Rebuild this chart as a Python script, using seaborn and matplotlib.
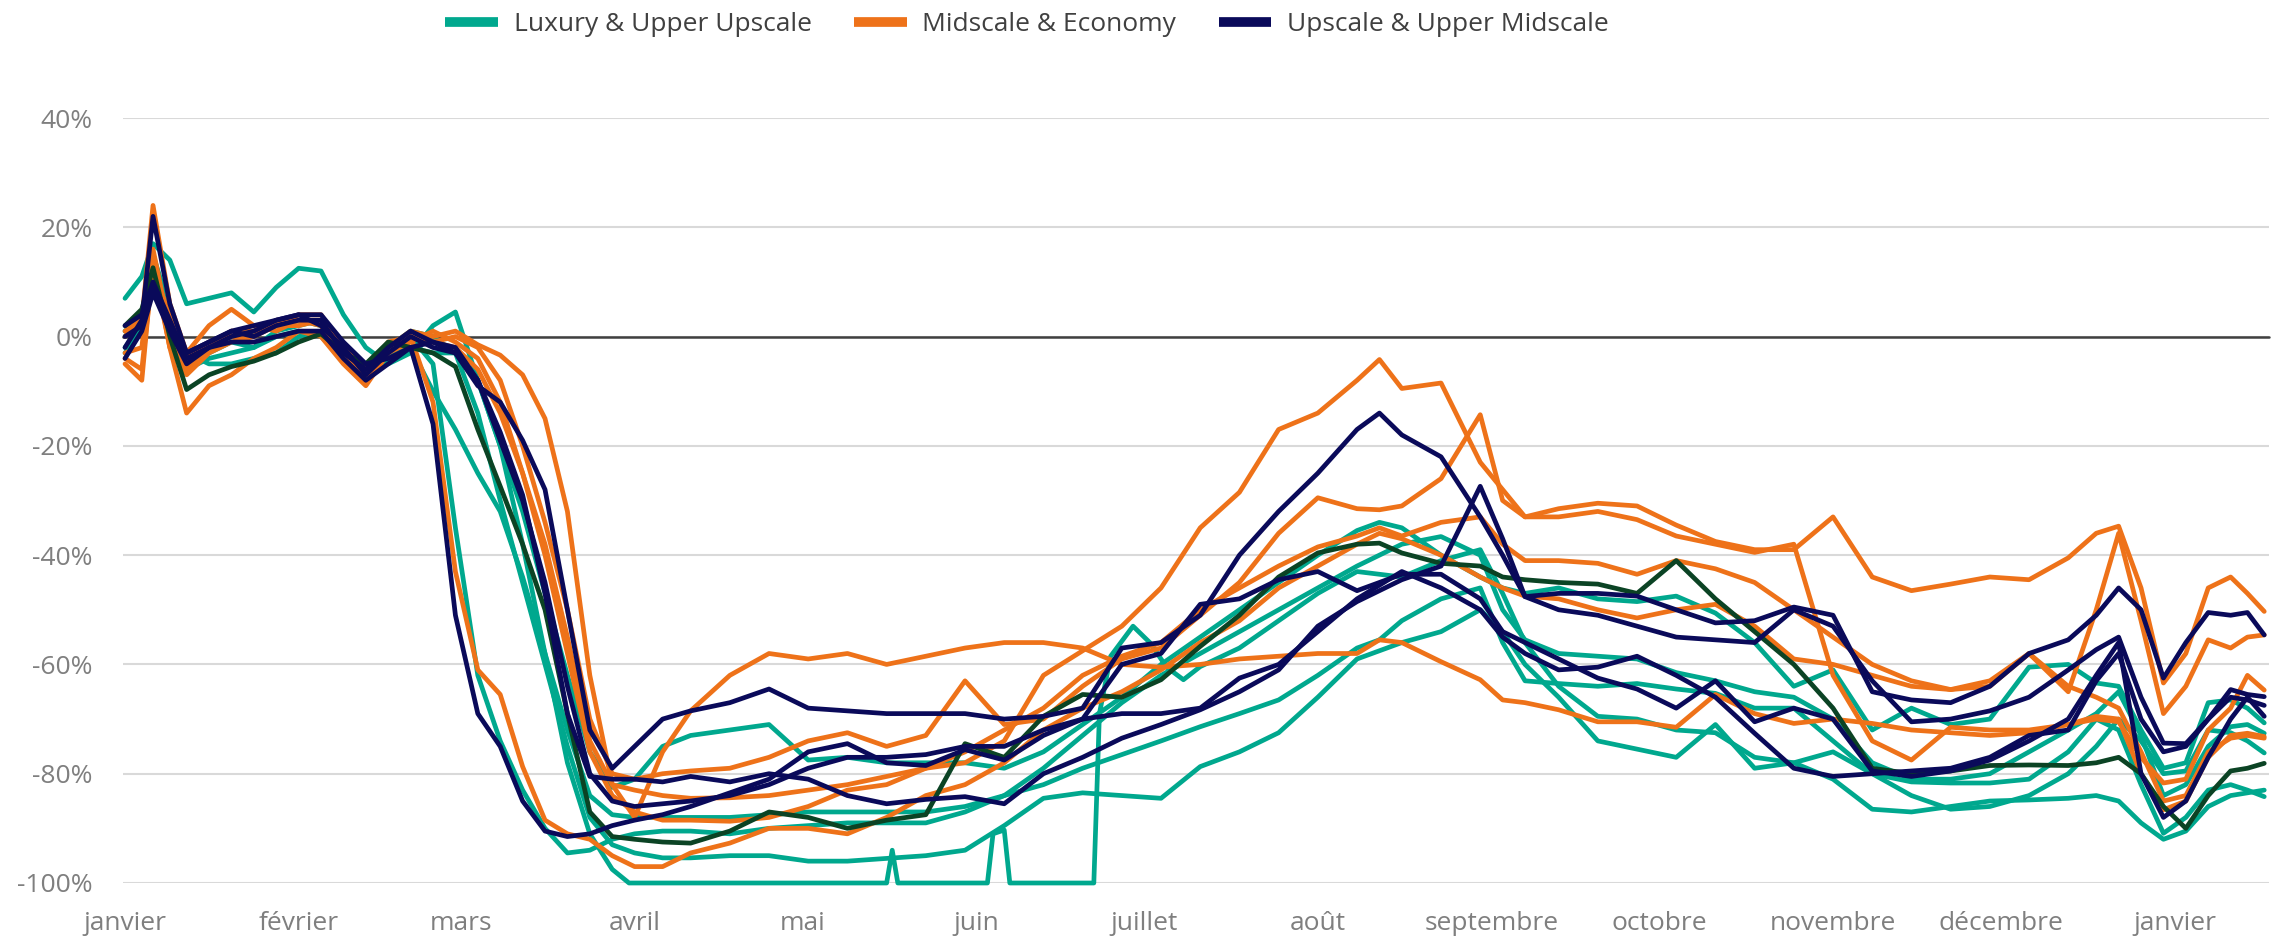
import matplotlib
matplotlib.use("Agg")
import pandas as pd
import matplotlib.pyplot as plt
import seaborn as sns
from matplotlib.lines import Line2D

sns.set_theme(style="white")
plt.rcParams["font.family"] = ["Open Sans", "DejaVu Sans"]

# jours depuis le 1er janvier 2020
DAYS = [0, 3, 5, 8, 11, 15, 19, 23, 27, 31, 35, 39, 43, 47, 51, 55,
        59, 63, 67, 71, 75, 79, 83, 87, 91, 96, 101,
        108, 115, 122, 129, 136, 143, 150, 157, 164, 171, 178,
        185, 192, 199, 206, 213, 220, 224, 228, 235, 242, 246, 250,
        256, 263, 270, 277, 284, 291, 298, 305, 312, 319, 326, 333, 340, 347,
        352, 356, 360, 364, 368, 372, 376, 379, 382]

MONTH_DAYS = [0, 31, 60, 91, 121, 152, 182, 213, 244, 274, 305, 335, 366]
MONTH_LABELS = ["janvier", "février", "mars", "avril", "mai", "juin", "juillet",
                "août", "septembre", "octobre", "novembre", "décembre", "janvier"]

# Luxury & Upper Upscale
TA = [7, 11, 17, 14, 6, 7, 8, 4.5, 9, 12.5, 12, 4, -2, -5, -3, 2,
      4.5, -8, -20, -32, -47, -62, -76, -82.5, -81, -75, -73,
      -72, -71, -77.5, -77, -78, -78, -78, -79, -76, -71, -66,
      -60, -55, -50, -45, -40, -35.5, -34, -35, -40, -44, -46, -47,
      -46, -48, -48.5, -47.5, -50.6, -56, -64, -61, -72, -68, -71, -70, -60.5, -60,
      -63.4, -64, -72, -79, -78, -67, -66.5, -68, -70.7]
TB = [-2, 2, 14, 3, -4, -2, 0, 1, 2, 3, 2, -3, -7, -3, -2, -10,
      -17, -25, -32, -44, -58, -72, -84, -87.5, -88, -88, -88,
      -88, -87.5, -87, -87, -87, -87, -86, -84, -79, -73, -67,
      -62, -58, -54, -50, -46, -42, -40, -38, -36.6, -40, -50, -55.5,
      -58, -58.5, -59, -61.5, -63, -65, -66, -70, -78, -81, -81, -80, -76, -72,
      -69, -65, -73, -84, -82, -75, -71.4, -71, -72.6]
TC = [-3, 1, 10, 2, -5, -3, -1, -2, 1, 2, 3, -2, -6, -4, 0, -5,
      -35, -62, -74, -83, -90, -94.5, -94, -92, -91, -90.5, -90.5,
      -91, -90, -89.5, -89, -89, -89, -87, -84, -82, -79, -76.5,
      -74, -71.4, -69, -66.5, -62, -57, -55.5, -52, -48, -46, -56, -63,
      -63.5, -64, -63.5, -64.5, -65.3, -68, -68, -74, -80, -81.5, -81.7, -81.7, -81, -76,
      -70, -72, -82, -90.9, -88, -83, -82, -83, -84.2]
TD = [0, 3, 12, 0, -6, -4, -3, -2, 0, 1, 0, -4, -8, -2, 1, 0,
      -3, -14, -30, -45, -60, -75, -88, -93, -94.5, -95.4, -95.4,
      -95, -95, -96, -96, -95.5, -95, -94, -89.5, -84.5, -83.5, -84,
      -84.5, -78.7, -76, -72.5, -66, -59, -57.5, -56, -54, -50, -54, -60,
      -66, -74, -75.5, -77, -71, -79, -78, -81, -86.5, -87, -86, -85, -84.8, -84.5,
      -84, -85, -89, -92, -90.5, -86, -84, -83.5, -83]
TE_DAYS = [0, 3, 5, 8, 11, 15, 19, 23, 27, 31, 35, 39, 43, 47, 51, 55, 59, 63, 67, 71,
           75, 79, 83, 87, 90, 136, 137, 138, 154, 155, 157, 158, 173, 174, 176, 180,
           183, 186, 189, 192, 199, 206, 213, 220, 224, 228, 235, 242, 246, 250,
           256, 263, 270, 277, 284, 291, 298, 305, 312, 319, 326, 333, 340, 347,
           352, 356, 360, 364, 368, 372, 376, 379, 382]
TE = [1, 4, 15, 5, -3, -5, -5, -4, -3, 0, 1, -3, -7, -4, -2, -3, -3, -8, -20, -38,
      -58, -78, -91, -97.5, -100, -100, -94, -100, -100, -91, -90.3, -100, -100, -69, -58.5, -53,
      -56, -60.5, -62.8, -60.4, -57, -52, -47, -43, -43.5, -44, -41, -39, -47, -56,
      -64, -69.5, -70, -72, -72.5, -77, -78, -76, -80, -84, -86.5, -86, -84, -80,
      -75, -70, -74, -80, -79.5, -72, -72.5, -74, -76.2]

# Midscale & Economy
OA = [1, 3, 24, 6, -3, 2, 5, 2, 1, 3, 3, -3, -7, -3, 0, -1,
      -2, -6, -14, -25, -38, -55, -74, -82, -83, -84, -84.5,
      -84.4, -84, -83, -82, -80.5, -79, -78, -74, -62, -57.5, -53,
      -46, -35, -28.5, -17, -14, -8, -4.2, -9.5, -8.5, -23, -28, -33,
      -31.5, -30.5, -31, -34.5, -37.5, -39, -39, -33, -44, -46.5, -45.3, -44, -44.5, -40.5,
      -36, -34.7, -46, -63.4, -58, -46, -44, -47, -50.3]
OS = [-3, -2, 16, 1, -6, -2, 1, 1, 2, 2, 3, -3, -7, -2, 0, -1,
      0, -2, -8, -20, -34, -50, -70, -80, -81, -80, -79.5,
      -79, -77, -74, -72.5, -75, -73, -63, -71, -70, -64, -59,
      -57, -51, -45, -36, -29.5, -31.5, -31.7, -31, -26, -14.3, -30, -33,
      -33, -32, -33.5, -36.5, -38, -39.5, -38, -62, -74, -77.5, -71.5, -72, -72, -71,
      -70, -70.5, -77, -81.7, -81, -72, -68, -62, -64.7]
OB = [-5, -8, 14, -2, -14, -9, -7, -4, -2, 1, 0, -5, -9, -3, -1, 1,
      -1, -4, -12, -25, -40, -58, -76, -84, -87, -88.5, -88.5,
      -88.7, -88, -86, -83, -82, -79, -76, -72, -68, -62, -58.5,
      -56, -50, -46, -42, -38.5, -36.5, -35, -36.5, -34, -33, -38, -41,
      -41, -41.5, -43.5, -41, -42.5, -45, -50, -55, -60, -63, -64.6, -63, -58, -64,
      -66, -68, -76, -85, -84, -76, -73.5, -73, -73.5]
OC = [0, 4, 12, 4, -4, -1, 0, 0, 2, 4, 4, -2, -6, -1, 0, -12,
      -43, -61, -65.5, -78.7, -88.5, -91, -92, -95, -97, -97, -94.5,
      -92.7, -90, -90, -91, -88, -84, -82, -78, -72, -68, -65,
      -61, -56, -52, -46, -42, -38, -36, -37, -40, -44, -46, -47.5,
      -48, -50, -51.5, -50, -49, -53, -59, -60, -62, -64, -64.6, -64, -58, -65,
      -50, -36, -52, -69, -64, -55.5, -57, -55, -54.6]
OD = [-4, -6, 13, -2, -7, -3, -1, 0, 3, 3, 2, -4, -8, -2, 1, 0,
      1, -1.5, -3.4, -7, -15, -32, -62, -82, -88, -76, -68.5,
      -62, -58, -59, -58, -60, -58.5, -57, -56, -56, -57, -60,
      -60.5, -60, -59, -58.5, -58, -58, -55.5, -56, -59.5, -62.8, -66.5, -67,
      -68.3, -70.5, -70.5, -71.5, -65.5, -69, -70.8, -70, -70.8, -72, -72.5, -73, -72.5, -71,
      -69.5, -70, -80, -86.6, -85, -77, -73, -72.6, -73.2]

# Upscale & Upper Midscale
N1 = [-2, 3, 22, 6, -3, -1, 1, 2, 3, 4, 4, -1, -5, -4, -2, -1,
      -3, -9, -12, -19, -28, -50, -72, -79, -75, -70, -68.5,
      -67, -64.5, -68, -68.5, -69, -69, -69, -70, -69.5, -68, -57,
      -56, -51, -40, -32, -25, -17, -14, -18, -22, -33, -40, -47.6,
      -47, -47, -47.5, -50, -52.4, -52, -49.5, -51, -65, -66.5, -67, -64, -58, -55.5,
      -51, -46, -50, -62.5, -56, -50.5, -51, -50.5, -54.6]
N2 = [2, 4, 10, 3, -4, -2, 0, 1, 3, 4, 2, -2, -7, -3, 0, -2,
      -3, -8, -17.5, -29, -47, -69, -80.5, -81, -81, -81.5, -80.5,
      -81.5, -80, -81, -84, -85.5, -84.7, -84.2, -85.5, -80, -77, -73.5,
      -71, -68.3, -65, -61, -53, -48.5, -46.5, -44.5, -42, -27.4, -37, -47.6,
      -50, -51, -53, -55, -55.5, -56, -50, -53, -63, -70.5, -70, -68.5, -66, -61,
      -57.3, -55, -66, -74.4, -74.5, -70, -64.6, -65.5, -65.9]
N3 = [-4, 1, 8, 1, -5, -2, -1, -1, 0, 1, 1, -4, -8, -5, -2, -16,
      -51, -69, -75, -85, -90.5, -91.5, -91, -89.5, -88.5, -87.5, -86,
      -83.5, -81, -76, -74.5, -78, -78.5, -75.6, -77.5, -73, -70, -69,
      -69, -68, -62.5, -60, -54, -48, -45.5, -43, -46, -50, -55, -58,
      -61, -60.5, -58.5, -62, -66, -72.6, -79, -80.5, -80, -79.5, -79, -77, -73, -72,
      -63, -58, -70, -76, -75, -70, -66, -66.5, -67.5]
N4 = [0, 2, 9, 2, -3, -1, 1, 0, 2, 3, 3, -3, -6, -2, 1, -1,
      -2, -8, -19, -30, -45, -64, -80, -85, -86, -85.5, -85,
      -84, -82, -79, -77, -77, -76.5, -75, -75, -72, -70, -60,
      -58, -49, -48, -44.5, -43, -46.5, -45, -43.5, -43.5, -48, -54, -56,
      -59, -62.5, -64.5, -68, -63, -70.5, -68, -70, -79.5, -80.5, -79.5, -77.5, -74, -70,
      -62, -56, -80, -88, -85, -77, -70, -66, -69.5]

# ensemble
G = [2, 5, 12.6, 0, -9.7, -7, -5.5, -4.5, -3, -1, 0.5, -3, -5, -1, -2, -3,
     -5.5, -17, -27.4, -38, -50, -69, -87, -91.5, -92, -92.5, -92.7,
     -90.5, -87, -88, -90, -88.5, -87.5, -74.5, -77, -69.5, -65.5, -66,
     -62.8, -56.7, -51, -44, -39.6, -38, -37.8, -39.6, -41.5, -42, -44, -44.5,
     -45, -45.3, -47, -41, -48, -54, -60, -68, -79, -80, -79.5, -78.5, -78.4, -78.5,
     -78, -77, -80, -86, -90, -84, -79.5, -79, -78.1]

TEAL = "#00A88E"
ORANGE = "#EE7219"
NAVY = "#0A0A5A"
GREEN = "#0B4324"

LEGEND = ["Luxury & Upper Upscale", "Midscale & Economy", "Upscale & Upper Midscale"]

series = {
    "TE": (TE_DAYS, TE, TEAL), "TA": (DAYS, TA, TEAL), "TB": (DAYS, TB, TEAL),
    "TC": (DAYS, TC, TEAL), "TD": (DAYS, TD, TEAL),
    "OA": (DAYS, OA, ORANGE), "OS": (DAYS, OS, ORANGE), "OB": (DAYS, OB, ORANGE),
    "OC": (DAYS, OC, ORANGE), "OD": (DAYS, OD, ORANGE),
    "G": (DAYS, G, GREEN),
    "N1": (DAYS, N1, NAVY), "N2": (DAYS, N2, NAVY), "N3": (DAYS, N3, NAVY),
    "N4": (DAYS, N4, NAVY),
}

frames = []
for name, (d, v, c) in series.items():
    assert len(d) == len(v), name
    frames.append(pd.DataFrame({"day": d, "value": v, "serie": name}))
df = pd.concat(frames, ignore_index=True)
palette = {k: s[2] for k, s in series.items()}

fig = plt.figure(figsize=(22.8, 9.41), dpi=100)
ax = fig.add_axes([123 / 2280, 1 - 883 / 941, 2146 / 2280, 765 / 941])

ax.axhline(0, color="#404040", lw=1.8, zorder=1.5)
sns.lineplot(data=df, x="day", y="value", hue="serie", hue_order=list(series.keys()),
             palette=palette, estimator=None, sort=False, linewidth=3.4,
             legend=False, ax=ax)
for ln in ax.lines:
    ln.set_clip_on(False)
    ln.set_solid_joinstyle("round")
    ln.set_solid_capstyle("round")

ax.set_xlim(-0.36, 382.85)
ax.set_ylim(-100, 40)
ax.set_yticks(range(-100, 41, 20))
ax.set_yticklabels([f"{v}%" for v in range(-100, 41, 20)])
ax.set_xticks(MONTH_DAYS)
ax.set_xticklabels(MONTH_LABELS)
ax.set_xlabel("")
ax.set_ylabel("")
ax.set_axisbelow(True)
ax.yaxis.grid(True, color="#D9D9D9", lw=1.5)
ax.xaxis.grid(False)
ax.tick_params(axis="y", length=0, pad=22, labelsize=19, labelcolor="#7F7F7F")
ax.tick_params(axis="x", length=0, pad=20, labelsize=19, labelcolor="#7F7F7F")
sns.despine(ax=ax, left=True, bottom=True)

handles = [Line2D([0], [0], color=c, lw=7, solid_capstyle="butt") for c in (TEAL, ORANGE, NAVY)]
fig.legend(handles, LEGEND, loc="center", bbox_to_anchor=(0.4504, 0.974), ncol=3,
           frameon=False, fontsize=19, labelcolor="#404040", handlelength=2.0,
           handletextpad=0.6, columnspacing=1.6)

fig.savefig("out.png", dpi=100)
